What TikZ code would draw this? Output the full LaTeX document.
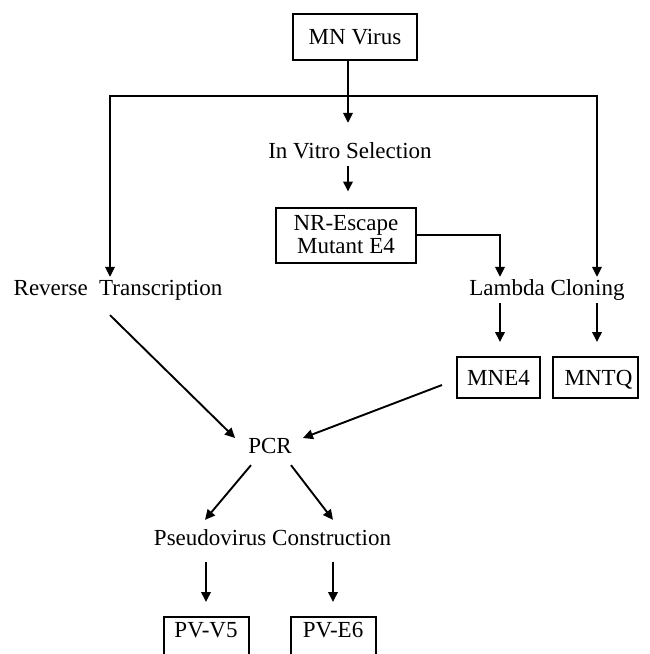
\documentclass[tikz,border=0pt]{standalone}
\usepackage{fontspec}
\setmainfont{Liberation Serif}
\usetikzlibrary{arrows.meta,calc}
\begin{document}
\begin{tikzpicture}[x=1pt,y=-1pt,
  every node/.style={font=\fontsize{23pt}{23pt}\selectfont},
  txt/.style={inner sep=0pt,text height=16.1pt,text depth=4.6pt},
  box/.style={draw,line width=2pt,inner sep=0pt,align=center},
  onebox/.style={box,text height=15.2pt,text depth=0pt},
  pvbox/.style={draw,line width=2pt,inner xsep=0pt,inner ysep=4pt,text height=16pt,text depth=50pt,minimum width=85pt,anchor=north},
  conn/.style={line width=1.9pt},
  tip/.tip={Triangle[length=10pt,width=9.5pt]},
  arr/.style={conn,-tip},
]
\useasboundingbox (0,0) rectangle (649,654);
\fill[white] (0,0) rectangle (649,654);
\clip (0,0) rectangle (649,654);

% nodes
\node[onebox,minimum width=124pt,minimum height=46pt] (mn) at (355,37) {MN Virus};
\node[txt] (vit) at (350,153) {In Vitro Selection};
\node[box,minimum width=140pt,minimum height=55pt] (nr) at (346,235) {NR-Escape\\Mutant E4};
\node[txt] (rt) at (118,290) {Reverse~~Transcription};
\node[txt] (lc) at (547,290) {Lambda Cloning};
\node[onebox,minimum width=83pt,minimum height=41pt] (mne4) at (498.5,377.5) {MNE4};
\node[onebox,minimum width=85pt,minimum height=41pt] (mntq) at (595.5,377.5) {\hspace*{6pt}MNTQ};
\node[txt] (pcr) at (270,448) {PCR};
\node[txt] (pvc) at (272.5,540) {Pseudovirus Construction};
\node[pvbox] (pv5) at (206,616) {PV-V5};
\node[pvbox] (pv6) at (333,616) {PV-E6};

% junction points
\coordinate (split) at (348,96);
\coordinate (lcorner) at (110,96);
\coordinate (rcorner) at (597,96);
\coordinate (lcl) at (500,235);

% connectors
\draw[conn] (mn.south -| split) -- (split);
\draw[arr,shorten >=19.6pt] (split) -- (vit.north -| split);
\draw[conn,tip-tip,shorten <=2.6pt,shorten >=2.6pt] (rt.north -| lcorner) -- (lcorner) -- (rcorner) -- (lc.north -| rcorner);
\draw[arr,shorten <=2.4pt,shorten >=15pt] (vit.south -| split) -- (nr.north -| split);
\draw[arr,shorten >=2.6pt] (nr.east) -- (lcl) -- (lc.north -| lcl);
\draw[arr,shorten <=2.6pt,shorten >=14pt] (lc.south -| lcl) -- (mne4.north -| lcl);
\draw[arr,shorten <=2.6pt,shorten >=14pt] (lc.south -| rcorner) -- (mntq.north -| rcorner);
\draw[arr] ($(rt.south)+(-8,14.6)$) -- ($(pcr.west)+(-13,-10)$);
\draw[arr] ($(mne4.west)+(-14,7.5)$) -- ($(pcr.east)+(11,-10)$);
\draw[arr] ($(pcr.south)+(-19,6.6)$) -- ($(pvc.north)+(-67.5,-9.6)$);
\draw[arr] ($(pcr.south)+(21,6.6)$) -- ($(pvc.north)+(60.5,-9.6)$);
\draw[arr,shorten <=11.6pt,shorten >=14pt] (pvc.south -| pv5.north) -- (pv5.north);
\draw[arr,shorten <=11.6pt,shorten >=14pt] (pvc.south -| pv6.north) -- (pv6.north);
\end{tikzpicture}
\end{document}
